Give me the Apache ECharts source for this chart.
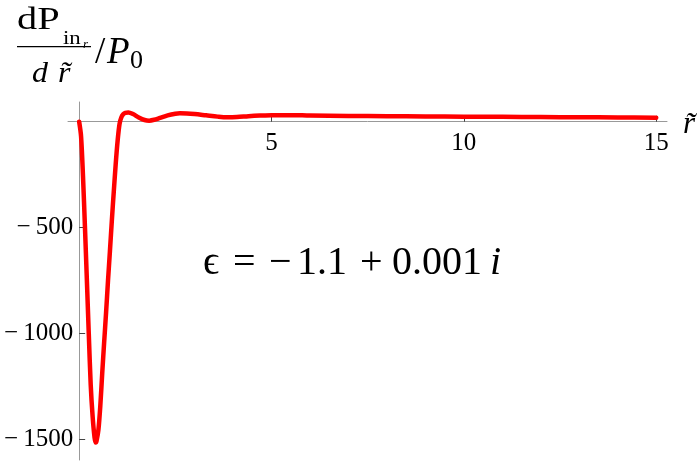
<!DOCTYPE html>
<html>
<head>
<meta charset="utf-8">
<script src="https://cdn.jsdelivr.net/npm/echarts@6/dist/echarts.min.js"></script>
<style>
  html, body { margin: 0; padding: 0; background: #fff; }
  #chart { width: 700px; height: 463px; }
</style>
</head>
<body>
<div id="chart"></div>
<script>
// values
var rValues = [0, 0.05, 0.10, 0.15, 0.20, 0.25, 0.30, 0.35, 0.40, 0.43, 0.45, 0.50, 0.55, 0.60, 0.65,
  0.70, 0.75, 0.80, 0.85, 0.90, 0.95, 1.00, 1.05, 1.10, 1.15, 1.20, 1.28, 1.4, 1.55, 1.7, 1.82, 1.95,
  2.1, 2.3, 2.5, 2.62, 2.8, 3.0, 3.3, 3.6, 3.84, 4.1, 4.4, 4.7, 5.0, 5.5, 6.0, 7.0, 8.0, 9.0,
  10, 11, 12, 13, 14, 15];
var dPValues = [0, -70, -258, -494, -745, -1000, -1240, -1390, -1490, -1514, -1508, -1455, -1340, -1185, -1040,
  -900, -750, -610, -465, -330, -200, -90, -10, 22, 36, 42, 44, 36, 20, 8, 5, 9,
  18, 30, 38, 40, 39, 36, 30, 24, 21, 22, 26, 29, 31, 31, 29, 27, 26, 25,
  24, 23, 22, 21, 20, 19];
var xTicks = [5, 10, 15];
var yTicks = [-1500, -1000, -500];

var serif = '"Liberation Serif", "DejaVu Serif", serif';

var xMin = -0.29, xMax = 15.28;
var yMin = -1596, yMax = 93;
var gridLeft = 68, gridRight = 33, gridTop = 102, gridBottom = 3;

// axes cross at the origin, labels must follow them
var plotW = 700 - gridLeft - gridRight;
var plotH = 463 - gridTop - gridBottom;
var yAxisOffset = -(0 - xMin) / (xMax - xMin) * plotW;
var xAxisOffset = -(yMax - 0) / (yMax - yMin) * plotH;

var chart = echarts.init(document.getElementById('chart'));

var points = rValues.map(function (r, i) {
  return [r, dPValues[i]];
});

function txt(x, y, text, size, italic, sx) {
  return {
    type: 'text',
    x: x, y: y,
    scaleX: sx || 1,
    style: {
      x: 0, y: 0, text: text,
      font: (italic ? 'italic ' : '') + size + 'px ' + serif,
      fill: '#000',
      textVerticalAlign: 'middle'
    }
  };
}

var option = {
  animation: false,
  backgroundColor: '#fff',
  grid: {
    left: gridLeft, right: gridRight, top: gridTop, bottom: gridBottom,
    containLabel: false, outerBoundsMode: 'none'
  },
  xAxis: {
    type: 'value',
    position: 'top',
    offset: xAxisOffset,
    min: xMin,
    max: xMax,
    axisLine: { onZero: false, lineStyle: { color: '#999', width: 1 } },
    axisTick: { show: true, inside: false, length: 6, customValues: xTicks, lineStyle: { color: '#444' } },
    axisLabel: {
      customValues: xTicks, inside: true, margin: 9,
      fontFamily: serif, fontSize: 25, color: '#000'
    },
    splitLine: { show: false }
  },
  yAxis: {
    type: 'value',
    position: 'left',
    offset: yAxisOffset,
    min: yMin,
    max: yMax,
    axisLine: { onZero: false, lineStyle: { color: '#999', width: 1 } },
    axisTick: { show: true, inside: true, length: 6, customValues: yTicks, lineStyle: { color: '#444' } },
    axisLabel: {
      customValues: yTicks, margin: 6,
      fontFamily: serif, fontSize: 25, color: '#000',
      formatter: function (v) { return '\u2212\u2009' + Math.abs(v); }
    },
    splitLine: { show: false }
  },
  series: [{
    type: 'line',
    data: points,
    smooth: 0.3,
    showSymbol: false,
    lineStyle: { color: '#ff0000', width: 4.5, join: 'round', cap: 'round' }
  }],
  graphic: [
    // y axis title: dP_{in_r} / d r~  / P_0
    txt(17, 21, 'dP', 31, false, 1.3),
    txt(63, 39, 'in', 19, false, 1.2),
    txt(83, 45, 'r', 13, true),
    { type: 'line', shape: { x1: 17, y1: 46.7, x2: 91, y2: 46.7 }, style: { stroke: '#000', lineWidth: 1.3 } },
    txt(32, 74, 'd', 29, true, 1.1),
    txt(58, 74, 'r\u0303', 29, true, 1.1),
    txt(95, 53, '/', 37, false),
    txt(107, 53, 'P', 37, true),
    txt(130, 61, '0', 26, false),
    // x axis title
    txt(683, 125, 'r\u0303', 31, true),
    // annotation
    txt(203, 263, '\u03f5', 40, false),
    txt(233, 263, '=', 40, false),
    txt(269, 263, '\u2212', 40, false),
    txt(297, 263, '1.1', 40, false),
    txt(360, 263, '+', 40, false),
    txt(392, 263, '0.001', 40, false),
    txt(490, 263, 'i', 40, true)
  ]
};

chart.setOption(option);
</script>
</body>
</html>
